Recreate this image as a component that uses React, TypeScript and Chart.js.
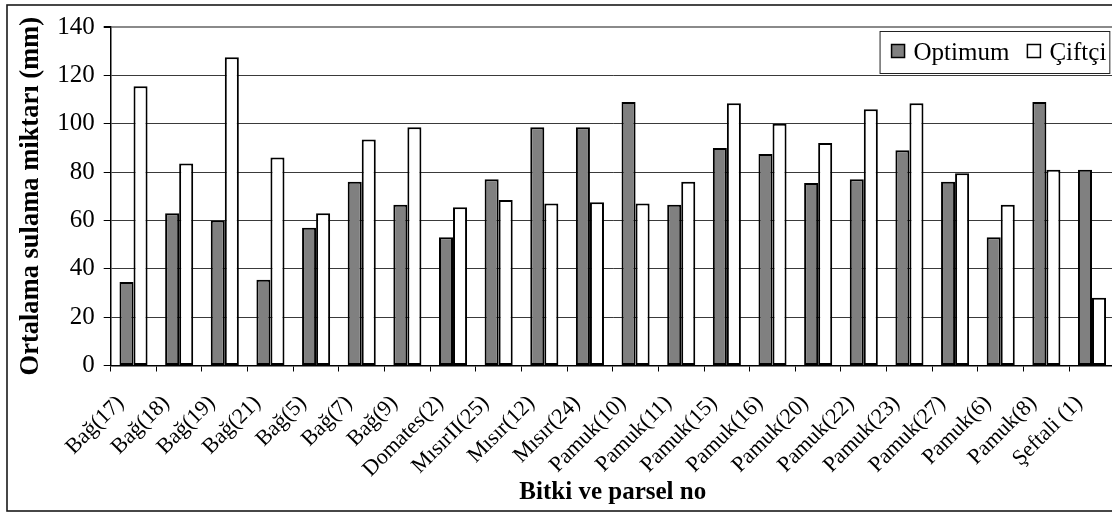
import React, { useEffect, useRef } from "react";
import { Chart, registerables } from "chart.js";

Chart.register(...registerables);

const categories = [
  "Bağ(17)", "Bağ(18)", "Bağ(19)", "Bağ(21)", "Bağ(5)", "Bağ(7)", "Bağ(9)",
  "Domates(2)", "MısırII(25)", "Mısır(12)", "Mısır(24)", "Pamuk(10)", "Pamuk(11)",
  "Pamuk(15)", "Pamuk(16)", "Pamuk(20)", "Pamuk(22)", "Pamuk(23)", "Pamuk(27)",
  "Pamuk(6)", "Pamuk(8)", "Şeftali (1)",
];
const optimum = [34.5, 63, 60, 35.5, 57, 76, 66.5, 53, 77, 98.5, 98.5, 109, 66.5, 90, 87.5, 75.5, 77, 89, 76, 53, 109, 81];
const ciftci = [115.5, 83.5, 127.5, 86, 63, 93.5, 98.5, 65.5, 68.5, 67, 67.5, 67, 76, 108.5, 100, 92, 106, 108.5, 79.5, 66.5, 81, 28];
const seriesLabels = ["Optimum", "Çiftçi"];
const yTicks = [0, 20, 40, 60, 80, 100, 120, 140];
const yTitle = "Ortalama sulama miktarı (mm)";
const xTitle = "Bitki ve parsel no";

const FONT = '"Liberation Serif", "Times New Roman", serif';
const W = 1130;
const H = 514;

const framePlugin = {
  id: "frame",
  beforeDraw(chart: any) {
    const ctx = chart.ctx;
    ctx.save();
    ctx.fillStyle = "#fff";
    ctx.fillRect(0, 0, chart.width, chart.height);
    ctx.strokeStyle = "#1a1a1a";
    ctx.lineWidth = 1.6;
    ctx.strokeRect(7, 5, chart.width, 506);
    ctx.restore();
  },
};

const legendPlugin = {
  id: "boxLegend",
  afterDraw(chart: any) {
    const ctx = chart.ctx;
    const a = chart.chartArea;
    ctx.save();
    ctx.font = `25px ${FONT}`;
    const items = chart.data.datasets.map((ds: any) => ({
      label: ds.label,
      fill: ds.backgroundColor,
      w: ctx.measureText(ds.label).width,
    }));
    const padL = 12, sq = 13, gapT = 9, gapI = 18, padR = 3;
    let total = padL + padR;
    items.forEach((it: any, i: number) => {
      total += sq + gapT + it.w + (i > 0 ? gapI : 0);
    });
    const right = a.right - 5.5;
    const left = right - total;
    const top = a.top + 4;
    const h = 42;
    ctx.fillStyle = "#fff";
    ctx.fillRect(left, top, total, h);
    ctx.strokeStyle = "#222";
    ctx.lineWidth = 1;
    ctx.strokeRect(left + 0.5, top + 0.5, total, h);
    let x = left + padL;
    const cy = top + 20;
    items.forEach((it: any, i: number) => {
      if (i > 0) x += gapI;
      ctx.fillStyle = it.fill;
      ctx.fillRect(x, cy - sq / 2, sq, sq);
      ctx.strokeStyle = "#000";
      ctx.lineWidth = 1.5;
      ctx.strokeRect(x, cy - sq / 2, sq, sq);
      x += sq + gapT;
      ctx.fillStyle = "#000";
      ctx.textBaseline = "alphabetic";
      ctx.textAlign = "left";
      ctx.fillText(it.label, x, cy + 8.5);
      x += it.w;
    });
    ctx.restore();
  },
};

export default function App() {
  const ref = useRef<HTMLCanvasElement>(null);

  useEffect(() => {
    if (!ref.current) return;
    const chart = new Chart(ref.current, {
      type: "bar",
      data: {
        labels: categories,
        datasets: [
          {
            label: seriesLabels[0],
            data: optimum,
            backgroundColor: "#808080",
            borderColor: "#000",
            borderWidth: 2,
            borderSkipped: false,
            categoryPercentage: 0.615,
            barPercentage: 1,
          },
          {
            label: seriesLabels[1],
            data: ciftci,
            backgroundColor: "#ffffff",
            borderColor: "#000",
            borderWidth: 2,
            borderSkipped: false,
            categoryPercentage: 0.615,
            barPercentage: 1,
          },
        ],
      },
      options: {
        animation: false,
        responsive: false,
        devicePixelRatio: 1,
        layout: { padding: { left: 18, top: 27, right: W - 1115.7, bottom: 9 } },
        plugins: {
          legend: { display: false },
          tooltip: { enabled: false },
        },
        scales: {
          x: {
            offset: true,
            grid: {
              offset: true,
              drawOnChartArea: false,
              drawTicks: true,
              tickLength: 6,
              color: "#000",
              lineWidth: 1,
            },
            border: { display: true, color: "#000", width: 1.5 },
            ticks: {
              color: "#000",
              font: { family: FONT, size: 22 },
              maxRotation: 45,
              minRotation: 45,
              autoSkip: false,
              padding: 19,
              labelOffset: -13,
            },
            title: {
              display: true,
              text: xTitle,
              color: "#000",
              font: { family: FONT, size: 25, weight: "bold", lineHeight: 1 },
              padding: 0,
            },
            afterFit: (s: any) => {
              s.height = 139.5;
            },
          },
          y: {
            min: 0,
            max: 140,
            afterBuildTicks: (s: any) => {
              s.ticks = yTicks.map((v) => ({ value: v }));
            },
            grid: {
              color: (c: any) => (c.tick && c.tick.value === 140 ? "#8a8a8a" : "#3a3a3a"),
              lineWidth: (c: any) => (c.tick && c.tick.value === 140 ? 2 : 1),
              tickColor: "#000",
              tickLength: 7,
            },
            border: { display: true, color: "#000", width: 1.5 },
            ticks: {
              color: "#000",
              font: { family: FONT, size: 25 },
              padding: 9,
            },
            title: {
              display: true,
              text: yTitle,
              color: "#000",
              font: { family: FONT, size: 26.5, weight: "bold", lineHeight: 1 },
              padding: 0,
            },
            afterFit: (s: any) => {
              s.width = 92.7;
            },
          },
        },
      },
      plugins: [framePlugin, legendPlugin],
    } as any);
    return () => chart.destroy();
  }, []);

  return (
    <div
      style={{
        position: "fixed",
        left: 0,
        top: 0,
        width: 1112,
        height: 514,
        overflow: "hidden",
        background: "#fff",
      }}
    >
      <canvas ref={ref} width={W} height={H} style={{ display: "block", width: W, height: H }} />
    </div>
  );
}
